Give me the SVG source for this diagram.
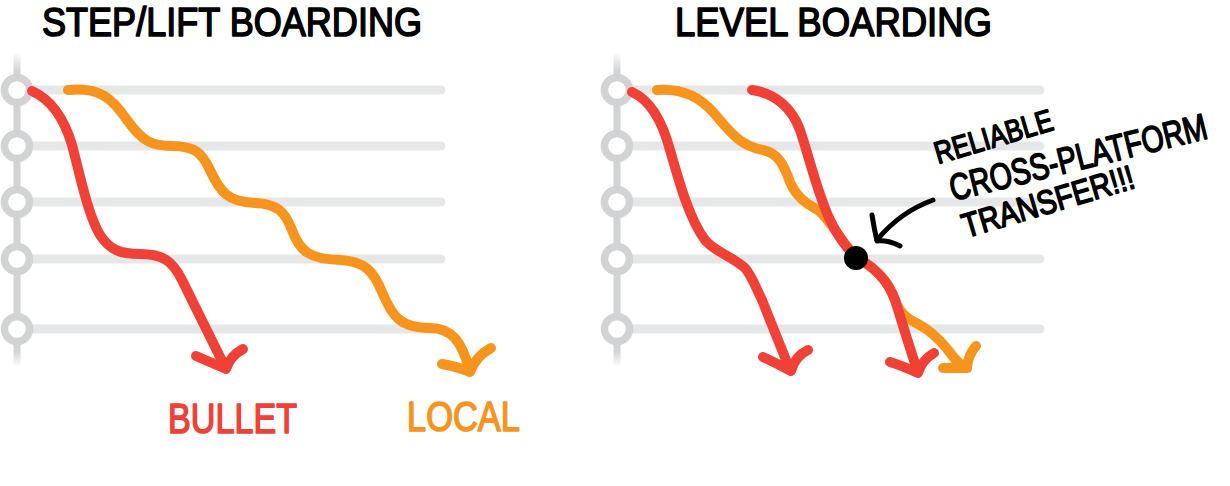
<svg xmlns="http://www.w3.org/2000/svg" width="1230" height="486" viewBox="0 0 1230 486">
<defs>
<linearGradient id="vfade" x1="0" y1="0" x2="0" y2="1">
<stop offset="0" stop-color="#d1d3d4" stop-opacity="0"/>
<stop offset="0.06" stop-color="#d1d3d4" stop-opacity="1"/>
<stop offset="0.95" stop-color="#d1d3d4" stop-opacity="1"/>
<stop offset="1" stop-color="#d1d3d4" stop-opacity="0"/>
</linearGradient>
</defs>
<style>
.track{stroke:#e6e7e8;stroke-width:9;stroke-linecap:round;fill:none}
.stn{fill:#fff;stroke:#d1d3d4;stroke-width:7.5}
.red{stroke:#ef4136;stroke-width:10;fill:none;stroke-linecap:round;stroke-linejoin:round}
.org{stroke:#f7941d;stroke-width:10;fill:none;stroke-linecap:round;stroke-linejoin:round}
.blk{stroke:#000;stroke-width:5;fill:none;stroke-linecap:round;stroke-linejoin:round}
.hand{font-family:"Liberation Sans","DejaVu Sans",sans-serif;font-weight:400;stroke-width:1.6;stroke-linejoin:round}
.title{font-size:40px;fill:#000;stroke:#000}
.lbl{font-size:42px}
.note{fill:#000;stroke:#000}
</style>

<g id="title-step">
<text class="hand title" x="42" y="36" textLength="380" lengthAdjust="spacingAndGlyphs">STEP/LIFT BOARDING</text>
</g>
<g id="title-level">
<text class="hand title" x="675" y="36" textLength="317" lengthAdjust="spacingAndGlyphs">LEVEL BOARDING</text>
</g>

<g id="left-line">
<rect x="13.5" y="52" width="7" height="315" fill="url(#vfade)"/>
<line class="track" x1="17" y1="90" x2="441" y2="90"/>
<line class="track" x1="17" y1="146" x2="441" y2="146"/>
<line class="track" x1="17" y1="202" x2="441" y2="202"/>
<line class="track" x1="17" y1="259" x2="441" y2="259"/>
<line class="track" x1="17" y1="329" x2="441" y2="329"/>
<circle class="stn" cx="17" cy="90" r="12.5"/>
<circle class="stn" cx="17" cy="146" r="12.5"/>
<circle class="stn" cx="17" cy="202" r="12.5"/>
<circle class="stn" cx="17" cy="259" r="12.5"/>
<circle class="stn" cx="17" cy="329" r="12.5"/>
</g>

<g id="right-line">
<rect x="613.5" y="52" width="7" height="315" fill="url(#vfade)"/>
<line class="track" x1="617" y1="90" x2="1040" y2="90"/>
<line class="track" x1="617" y1="146" x2="1040" y2="146"/>
<line class="track" x1="617" y1="202" x2="1040" y2="202"/>
<line class="track" x1="617" y1="259" x2="1040" y2="259"/>
<line class="track" x1="617" y1="329" x2="1040" y2="329"/>
<circle class="stn" cx="617" cy="90" r="12.5"/>
<circle class="stn" cx="617" cy="146" r="12.5"/>
<circle class="stn" cx="617" cy="202" r="12.5"/>
<circle class="stn" cx="617" cy="259" r="12.5"/>
<circle class="stn" cx="617" cy="329" r="12.5"/>
</g>

<g id="connectors">
<!-- left local -->
<path class="org" d="M68,90 C100,87 112,98 127,120 C143,142 152,146 172,146 C195,146 202,153 210,170 C220,192 228,202 255,203 C278,204 285,212 292,230 C300,252 310,259 340,260 C365,261 374,272 382,292 C392,316 400,328 430,328 C452,328 462,342 469,369"/>
<path class="org" d="M442,364 Q455,366 470,372 Q476,356 491,348"/>
<!-- left bullet -->
<path class="red" d="M32,91 C52,100 64,118 72,145 C80,175 88,215 100,235 C110,250 120,254 140,254 C162,254 172,260 182,280 L225,367"/>
<path class="red" d="M196,356 Q210,362 226,369 Q230,356 243,349"/>
<!-- right local -->
<path class="org" d="M657,90 C680,88 698,95 713,112 C730,132 740,146 763,150 C778,153 784,165 790,182 C796,196 805,203 818,210 C832,222 845,247 857,258 C875,268 888,280 895,300 C899,312 906,318 918,324 C930,330 940,340 948,350 C954,358 958,364 966,368"/>
<path class="org" d="M943,368 L967,368 Q968,355 976,346"/>
<!-- right bullet 1 -->
<path class="red" d="M632,92 C650,100 662,120 670,150 C680,185 690,220 705,240 C715,252 730,255 745,268 C752,276 756,288 762,300 L790,370"/>
<path class="red" d="M763,357 Q776,363 791,371 Q795,356 808,350"/>
<!-- right bullet 2 -->
<path class="red" d="M752,90 C775,93 792,108 800,130 C810,160 818,195 830,220 C840,240 850,252 858,258 C875,268 888,280 895,300 C903,325 910,350 918,372"/>
<path class="red" d="M890,362 Q903,366 918,373 Q922,360 934,353"/>
<!-- annotation arrow -->
<path class="blk" d="M933,200 Q900,212 877,240"/>
<path class="blk" d="M872,215 Q874,228 877,241 Q888,240 900,246"/>
</g>

<g id="transfer-dot">
<circle cx="856" cy="258" r="12" fill="#000"/>
</g>

<g id="label-bullet">
<text class="hand lbl" x="168" y="433" fill="#ef4136" stroke="#ef4136" textLength="129" lengthAdjust="spacingAndGlyphs">BULLET</text>
</g>
<g id="label-local">
<text class="hand lbl" x="407" y="431" fill="#f7941d" stroke="#f7941d" textLength="113" lengthAdjust="spacingAndGlyphs">LOCAL</text>
</g>

<g id="annotation">
<text class="hand note" font-size="31" transform="translate(938,164) rotate(-16.5)" textLength="122" lengthAdjust="spacingAndGlyphs">RELIABLE</text>
<text class="hand note" font-size="37" transform="translate(953,201) rotate(-13.8)" textLength="264" lengthAdjust="spacingAndGlyphs">CROSS-PLATFORM</text>
<text class="hand note" font-size="34" transform="translate(966,238) rotate(-16.5)" textLength="178" lengthAdjust="spacingAndGlyphs">TRANSFER!!!</text>
</g>
</svg>
